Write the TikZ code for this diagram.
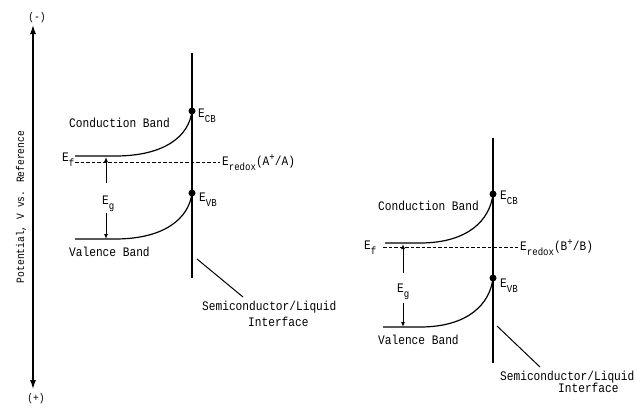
\documentclass[tikz,border=0pt]{standalone}
\usepackage{fontspec}
\setmainfont[FakeStretch=0.86]{Liberation Mono}
\usetikzlibrary{arrows.meta}
\newcommand{\lsub}[1]{\raisebox{-5pt}{\fontsize{10.5}{12}\selectfont #1}}
\newcommand{\lsup}[1]{\raisebox{4.5pt}{\fontsize{10.5}{12}\selectfont #1}}
\tikzset{
  band/.style={line width=1.2pt},
  iface/.style={line width=1.2pt},
  dashline/.style={dashed, dash pattern=on 3.5pt off 2pt, line width=0.7pt},
  dot/.style={circle, fill=black, inner sep=0pt, minimum size=7pt},
  lbl/.style={inner sep=0pt, anchor=base west, font=\fontsize{13}{15}\selectfont},
  small/.style={inner sep=0pt, font=\fontsize{11.2}{13}\selectfont},
  gaparrow/.style={line width=1pt, -{Latex[length=5pt,width=4pt]}},
  axisline/.style={line width=1.2pt, {Latex[length=9pt,width=6pt]}-{Latex[length=9pt,width=6pt]}},
  leader/.style={line width=1pt}
}
\begin{document}
\begin{tikzpicture}[x=1pt,y=-1pt]
\useasboundingbox (0,0) rectangle (637,407);
% potential axis
\coordinate (axtop) at (33,25);
\coordinate (axbot) at (33,389);
\draw[axisline] (axtop) -- (axbot);
\node[small] (minus) at (37,18) {(-)};
\node[small] (plus) at (36,399) {(+)};
\node[small, rotate=90] (axlabel) at (21,207) {Potential, V vs. Reference};

% ===== left diagram =====
\coordinate (Ltop) at (192,53);
\coordinate (Lbot) at (192,278);
\draw[iface] (Ltop) -- (Lbot);
\node[dot] (Lcb) at (192,111) {};
\node[dot] (Lvb) at (192,193) {};
\coordinate (Lcb0) at (75,156);
\coordinate (Lvb0) at (75,239);
\draw[band] (Lcb0) -- (115,156) .. controls (165,156) and (189,136) .. (Lcb.center);
\draw[band] (Lvb0) -- (115,239) .. controls (165,239) and (189,218) .. (Lvb.center);
\coordinate (Ldash0) at (75,162);
\coordinate (Ldash1) at (220,162);
\draw[dashline] (Ldash0) -- (Ldash1);
\coordinate (Lg1) at (106,183);
\coordinate (Lg1t) at (106,157);
\coordinate (Lg2) at (106,213);
\coordinate (Lg2t) at (106,239);
\draw[gaparrow] (Lg1) -- (Lg1t);
\draw[gaparrow] (Lg2) -- (Lg2t);
\coordinate (Ll0) at (197,259);
\coordinate (Ll1) at (243,297);
\draw[leader] (Ll0) -- (Ll1);
\node[lbl] (Lcbt) at (69,127) {Conduction Band};
\node[lbl] (Lvbt) at (69,256) {Valence Band};
\node[lbl] (Lecb) at (198,117) {E\lsub{CB}};
\node[lbl] (Levb) at (199,201) {E\lsub{VB}};
\node[lbl] (Lef) at (62,161) {E\lsub{f}};
\node[lbl] (Leg) at (102,204) {E\lsub{g}};
\node[lbl] (Lred) at (222,165) {E\lsub{redox}(A\lsup{+}/A)};
\node[lbl] (Lsc) at (202,310) {Semiconductor/Liquid};
\node[lbl] (Lif) at (248,326) {Interface};

% ===== right diagram =====
\coordinate (Rtop) at (493,138);
\coordinate (Rbot) at (493,363);
\draw[iface] (Rtop) -- (Rbot);
\node[dot] (Rcb) at (493,194) {};
\node[dot] (Rvb) at (493,278) {};
\coordinate (Rcb0) at (385,243);
\coordinate (Rvb0) at (383,327);
\draw[band] (Rcb0) -- (420,243) .. controls (468,243) and (490,220) .. (Rcb.center);
\draw[band] (Rvb0) -- (420,327) .. controls (468,327) and (490,304) .. (Rvb.center);
\coordinate (Rdash0) at (383,247);
\coordinate (Rdash1) at (518,247);
\draw[dashline] (Rdash0) -- (Rdash1);
\coordinate (Rg1) at (403,273);
\coordinate (Rg1t) at (403,244);
\coordinate (Rg2) at (403,303);
\coordinate (Rg2t) at (403,327);
\draw[gaparrow] (Rg1) -- (Rg1t);
\draw[gaparrow] (Rg2) -- (Rg2t);
\coordinate (Rl0) at (497,326);
\coordinate (Rl1) at (540,367);
\draw[leader] (Rl0) -- (Rl1);
\node[lbl] (Rcbt) at (378,210) {Conduction Band};
\node[lbl] (Rvbt) at (378,344) {Valence Band};
\node[lbl] (Recb) at (500,199) {E\lsub{CB}};
\node[lbl] (Revb) at (500,287) {E\lsub{VB}};
\node[lbl] (Ref) at (364,249) {E\lsub{f}};
\node[lbl] (Reg) at (397,292) {E\lsub{g}};
\node[lbl] (Rred) at (520,250) {E\lsub{redox}(B\lsup{+}/B)};
\node[lbl] (Rsc) at (500,380) {Semiconductor/Liquid};
\node[lbl] (Rif) at (558,392) {Interface};
\end{tikzpicture}
\end{document}
